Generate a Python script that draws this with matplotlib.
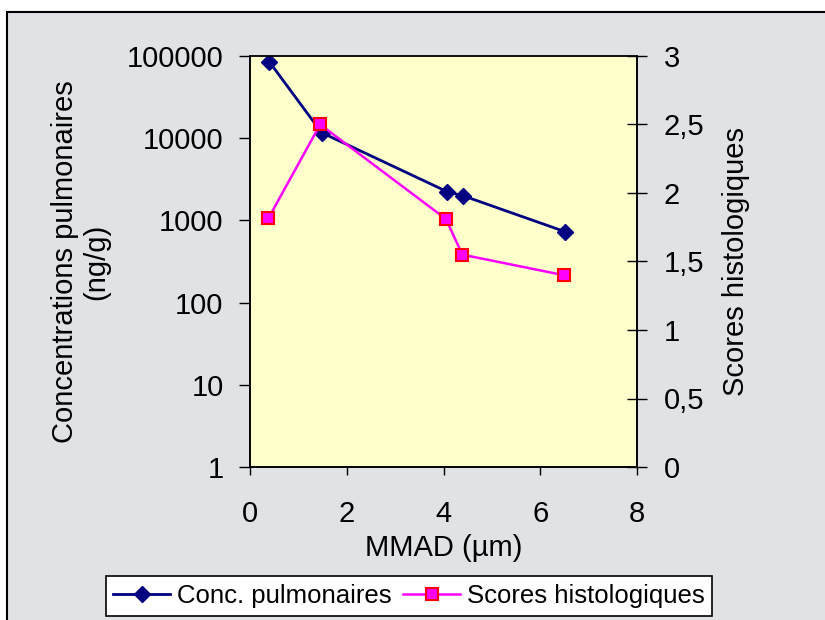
"""
Lung concentration and histology score vs particle MMAD.
"""

import matplotlib.pyplot as plt
from matplotlib.patches import Rectangle
from matplotlib.ticker import FixedLocator, FuncFormatter

plt.rcParams["font.family"] = ["Liberation Sans", "DejaVu Sans"]

# data
mmad_conc = [0.4, 1.48, 4.08, 4.41, 6.51]
conc_pulm = [85000, 11700, 2230, 1990, 730]

mmad_score = [0.38, 1.45, 4.05, 4.39, 6.49]
scores_histo = [1.815, 2.5, 1.81, 1.55, 1.40]

left_ticks = [1, 10, 100, 1000, 10000, 100000]
right_ticks = [0, 0.5, 1, 1.5, 2, 2.5, 3]
x_ticks = [0, 2, 4, 6, 8]

FS = 21

fig = plt.figure(figsize=(8.25, 6.2), dpi=100)
fig.patch.set_facecolor("white")

# chart area frame (background)
fig.patches.append(
    Rectangle((7 / 825, -0.05), 1.0, 1 - 12 / 620 + 0.05,
              transform=fig.transFigure, facecolor="#e0e2e5",
              edgecolor="black", linewidth=1.5, zorder=-10)
)

ax = fig.add_axes([250 / 825, 1 - 467 / 620, 387 / 825, 411 / 620])
ax.set_facecolor("#ffffcc")

ax.plot(mmad_conc, conc_pulm, color="#000080", linewidth=2,
        marker="D", markersize=8, markerfacecolor="#000080",
        markeredgecolor="#000080", label="Conc. pulmonaires", zorder=3)
ax.set_yscale("log")
ax.set_ylim(1, 100000)
ax.set_xlim(0, 8)
ax.yaxis.set_major_locator(FixedLocator(left_ticks))
ax.yaxis.set_minor_locator(FixedLocator([]))
ax.yaxis.set_major_formatter(FuncFormatter(lambda v, p: f"{int(round(v))}"))
ax.set_xticks(x_ticks)
ax.tick_params(axis="x", direction="out", length=6, width=1,
               labelsize=FS, pad=18)
ax.tick_params(axis="y", direction="out", length=8, width=1,
               labelsize=FS, pad=11)
ax.set_xlabel("MMAD (µm)", fontsize=FS, labelpad=4)
ax.set_ylabel("Concentrations pulmonaires\n(ng/g)", fontsize=FS,
              labelpad=12, linespacing=1.15)

ax2 = ax.twinx()
ax2.plot(mmad_score, scores_histo, color="#ff00ff", linewidth=1.8,
         marker="s", markersize=9, markerfacecolor="#ff00ff",
         markeredgecolor="#ff0000", markeredgewidth=1.5,
         label="Scores histologiques", zorder=3)
ax2.set_ylim(0, 3)
ax2.set_yticks(right_ticks)
ax2.yaxis.set_major_formatter(
    FuncFormatter(lambda v, p: f"{v:g}".replace(".", ","))
)
ax2.tick_params(axis="y", direction="inout", length=14, width=1,
                labelsize=FS, pad=12)
ax2.set_ylabel("Scores histologiques", fontsize=FS, labelpad=13)

for a in (ax, ax2):
    for s in a.spines.values():
        s.set_color("black")
        s.set_linewidth(1.2)
ax.spines["top"].set_color("#707070")

h1, l1 = ax.get_legend_handles_labels()
h2, l2 = ax2.get_legend_handles_labels()
leg = fig.legend(h1 + h2, l1 + l2, loc="center", ncol=2,
                 bbox_to_anchor=(409 / 825, 1 - 596 / 620),
                 fontsize=18.5, frameon=True, fancybox=False,
                 handlelength=2.2, columnspacing=0.47, handletextpad=0.27,
                 borderpad=0.3, borderaxespad=0)
leg.get_frame().set_edgecolor("black")
leg.get_frame().set_linewidth(1.2)
leg.get_frame().set_facecolor("white")
leg.get_frame().set_alpha(1)

fig.savefig("out.png", dpi=100)
